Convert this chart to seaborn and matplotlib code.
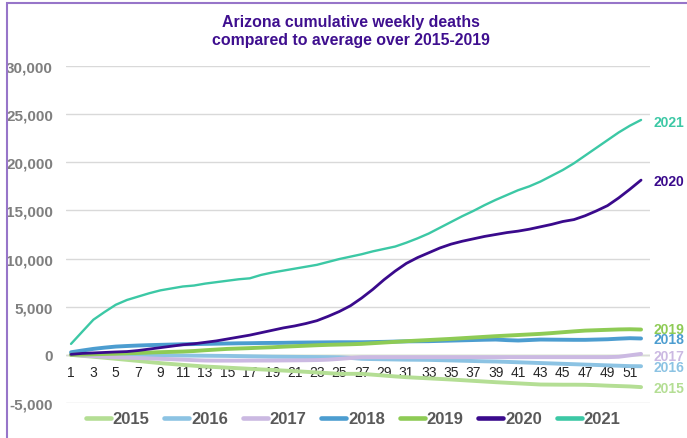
import numpy as np
import pandas as pd
import seaborn as sns
import matplotlib
matplotlib.use("Agg")
from matplotlib import pyplot as plt
from matplotlib.lines import Line2D
from matplotlib.patches import Rectangle

# cumulative weekly deaths vs 2015-2019 average, Arizona
weeks = list(range(1, 53))

d2015 = [0, -100, -200, -300, -410, -520, -630, -750, -860, -950, -1040, -1130, -1210,
         -1270, -1330, -1390, -1450, -1510, -1570, -1630, -1690, -1760, -1830, -1900,
         -1970, -1970, -1970, -2060, -2150, -2240, -2320, -2380, -2440, -2500, -2560,
         -2630, -2700, -2770, -2840, -2900, -2960, -3020, -3080, -3090, -3100, -3100,
         -3110, -3150, -3200, -3240, -3280, -3350]
d2016 = [100, 120, 100, 80, 50, 20, 0, -20, -40, -60, -70, -80, -90, -100, -110, -130,
         -150, -170, -190, -200, -210, -220, -230, -240, -260, -320, -410, -440, -460,
         -480, -500, -510, -520, -550, -580, -610, -640, -670, -690, -730, -770, -810,
         -850, -890, -930, -970, -1010, -1050, -1090, -1130, -1170, -1180]
d2017 = [0, -70, -130, -190, -240, -290, -330, -370, -410, -450, -500, -550, -590, -600,
         -600, -600, -590, -590, -590, -580, -570, -560, -540, -500, -420, -330, -250,
         -240, -240, -240, -240, -240, -240, -240, -240, -240, -240, -240, -240, -240,
         -240, -240, -240, -240, -240, -240, -240, -240, -240, -200, -50, 100]
d2018 = [270, 450, 620, 750, 860, 920, 970, 1010, 1040, 1070, 1100, 1120, 1140, 1160,
         1180, 1200, 1210, 1230, 1240, 1250, 1270, 1280, 1290, 1300, 1310, 1310, 1310,
         1330, 1350, 1380, 1400, 1410, 1420, 1450, 1480, 1510, 1540, 1570, 1590, 1530,
         1490, 1540, 1590, 1580, 1570, 1560, 1560, 1590, 1620, 1680, 1730, 1700]
d2019 = [0, 30, 60, 90, 120, 160, 200, 240, 280, 310, 345, 400, 480, 550, 620, 660, 700,
         750, 790, 850, 900, 950, 1000, 1040, 1070, 1100, 1140, 1210, 1280, 1350, 1420,
         1480, 1540, 1600, 1660, 1730, 1800, 1870, 1940, 2000, 2060, 2120, 2180, 2260,
         2350, 2440, 2520, 2560, 2600, 2640, 2660, 2630]
d2020 = [50, 150, 200, 250, 300, 340, 450, 600, 750, 900, 1050, 1150, 1300, 1450, 1650,
         1850, 2050, 2300, 2550, 2800, 3000, 3250, 3550, 4000, 4500, 5100, 5900, 6800,
         7800, 8700, 9500, 10100, 10600, 11100, 11500, 11800, 12050, 12300, 12500, 12700,
         12850, 13050, 13300, 13550, 13850, 14050, 14450, 14950, 15500, 16300, 17200, 18150]
d2021 = [1140, 2400, 3650, 4450, 5200, 5700, 6050, 6400, 6700, 6900, 7100, 7200, 7400,
         7550, 7700, 7850, 7950, 8300, 8550, 8750, 8950, 9150, 9350, 9650, 9950, 10200,
         10450, 10750, 11000, 11250, 11650, 12100, 12600, 13200, 13800, 14400, 14950,
         15550, 16100, 16600, 17100, 17500, 18000, 18600, 19200, 19900, 20700, 21500,
         22300, 23100, 23800, 24400]

years = ["2015", "2016", "2017", "2018", "2019", "2020", "2021"]
series = [d2015, d2016, d2017, d2018, d2019, d2020, d2021]
colors = ["#B4DE94", "#8CC3E3", "#CBB9E2", "#4C9DD0", "#8ECB55", "#3A0A8C", "#3CC8A5"]
widths = [2.8, 2.8, 2.8, 2.8, 2.8, 2.0, 1.7]
# end-of-line label positions (data units)
label_y = [-3420, -1250, -100, 1660, 2700, 18050, 24170]

sns.set_style("white")
plt.rcParams['font.family'] = ['Liberation Sans', 'DejaVu Sans']

fig = plt.figure(figsize=(6.87, 4.39), dpi=100)
ax = fig.add_axes([66 / 687, 1 - 404 / 439, 584 / 687, (404 - 67) / 439])

for yr, vals, c, w in zip(years, series, colors, widths):
    sns.lineplot(x=weeks, y=vals, color=c, lw=w, ax=ax, legend=False)

ax.axhline(0, color="#B4DE94", lw=1, zorder=0.5)

ax.set_xlim(0.55, 52.8)
ax.set_ylim(-5000, 30000)
ax.set_yticks(range(-5000, 30001, 5000))
ax.set_yticklabels([f"{v:,}" for v in range(-5000, 30001, 5000)],
                   fontsize=11, fontweight="bold", color="#7F7F7F")
ax.set_xticks(range(1, 52, 2))
ax.set_xticklabels([str(w) for w in range(1, 52, 2)], fontsize=7, color="#595959")
ax.yaxis.grid(True, color="#D9D9D9", lw=1)
ax.xaxis.grid(False)
for s in ax.spines.values():
    s.set_visible(False)
ax.spines['bottom'].set_position(('data', 0))
ax.tick_params(axis='y', length=0, pad=9.4)
ax.tick_params(axis='x', length=0, pad=7.5)
ax.set_axisbelow(True)

for yr, c, ly in zip(years, colors, label_y):
    ax.text(53.1, ly, yr, color=c, fontsize=10, fontweight="bold",
            va="center", ha="left", clip_on=False)

fig.text(0.511, 1 - 31 / 439, "Arizona cumulative weekly deaths\ncompared to average over 2015-2019",
         ha="center", va="center", fontsize=11.4, fontweight="bold", color="#3F0F8F",
         linespacing=1.25)

handles = [Line2D([0], [0], color=c, lw=3.3) for c in colors]
fig.legend(handles, years, loc="center", bbox_to_anchor=(0.514, 1 - 420 / 439),
           ncol=7, frameon=False, handlelength=1.5, handletextpad=0.1,
           columnspacing=0.9, prop={'size': 12, 'weight': 'bold'},
           labelcolor="#595959")

fig.patches.append(Rectangle((7 / 687, -0.5), 2, 1.5 - 3.5 / 439, transform=fig.transFigure,
                             fill=False, edgecolor="#9775C9", lw=1.5))

fig.savefig("out.png", dpi=100)
